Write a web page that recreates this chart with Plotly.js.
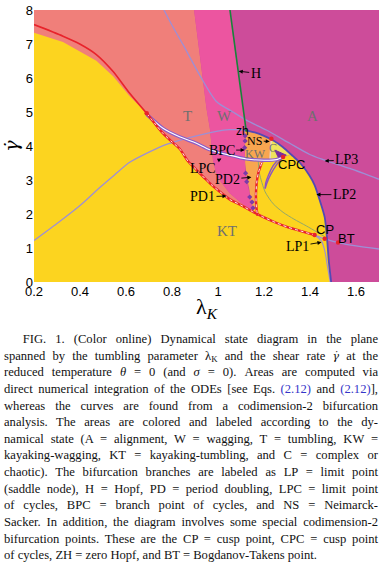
<!DOCTYPE html>
<html><head><meta charset="utf-8">
<script src="https://cdn.plot.ly/plotly-3.0.1.min.js"></script>
<style>
body{margin:0;background:#fff;width:387px;height:573px;overflow:hidden;position:relative}
#plot{position:absolute;left:0;top:0;width:387px;height:322px}
#cap{position:absolute;left:4px;top:331px;width:374px;font-family:'Liberation Serif','Times New Roman',serif;font-size:12.6px;line-height:16.65px;color:#111;transform-origin:0 0}
#cap .ln{white-space:nowrap;height:16.65px}
#cap .lk{color:#3535c8}
#cap .gd{font-family:'DejaVu Serif',serif;font-style:italic;font-size:11px}
#cap sub{font-size:70%;vertical-align:-2px;line-height:0}
</style>
</head><body>
<div id="plot"></div>
<div id="cap">
<div class="ln" style="padding-left:18.7px"><span class="t">FIG. 1. (Color online) Dynamical state diagram in the plane</span></div>
<div class="ln"><span class="t">spanned by the tumbling parameter λ<sub>K</sub> and the shear rate <span class="gd">γ̇</span> at the</span></div>
<div class="ln"><span class="t">reduced temperature <i>θ</i> = 0 (and <i>σ</i> = 0). Areas are computed via</span></div>
<div class="ln"><span class="t">direct numerical integration of the ODEs [see Eqs. <span class="lk">(2.12)</span> and <span class="lk">(2.12)</span>],</span></div>
<div class="ln"><span class="t">whereas the curves are found from a codimension-2 bifurcation</span></div>
<div class="ln"><span class="t">analysis. The areas are colored and labeled according to the dy-</span></div>
<div class="ln"><span class="t">namical state (A = alignment, W = wagging, T = tumbling, KW =</span></div>
<div class="ln"><span class="t">kayaking-wagging, KT = kayaking-tumbling, and C = complex or</span></div>
<div class="ln"><span class="t">chaotic). The bifurcation branches are labeled as LP = limit point</span></div>
<div class="ln"><span class="t">(saddle node), H = Hopf, PD = period doubling, LPC = limit point</span></div>
<div class="ln"><span class="t">of cycles, BPC = branch point of cycles, and NS = Neimarck-</span></div>
<div class="ln"><span class="t">Sacker. In addition, the diagram involves some special codimension-2</span></div>
<div class="ln"><span class="t">bifurcation points. These are the CP = cusp point, CPC = cusp point</span></div>
<div class="ln last"><span class="t">of cycles, ZH = zero Hopf, and BT = Bogdanov-Takens point.</span></div>
</div>
<script>
// ---------- axes ----------
const xRange = [0.2, 1.7];
const yRange = [0, 8];
const xTickVals = [0.2, 0.4, 0.6, 0.8, 1, 1.2, 1.4, 1.6];
const xTickText = ['0.2', '0.4', '0.6', '0.8', '1', '1.2', '1.4', '1.6'];
const yTickVals = [0, 1, 2, 3, 4, 5, 6, 7, 8];
const yTickText = ['0', '1', '2', '3', '4', '5', '6', '7', '8'];

// ---------- regions (boundaries) ----------
const regionT_x = [0.2, 0.2, 0.896, 0.915, 0.932, 0.95, 0.965, 0.972, 0.978, 0.99, 1.007, 1.05, 1.1, 1.165, 1.165];
const regionT_y = [0, 8, 8, 7.0, 6.0, 5.1, 4.5, 4.1, 3.6, 3.25, 3.0, 2.62, 2.33, 2.02, 0];

const regionW_x = [0.896, 1.052, 1.123, 1.116, 1.118, 1.13, 1.15, 1.172, 1.165, 1.1, 1.05, 1.007, 0.99, 0.978, 0.972, 0.965, 0.95, 0.932, 0.915, 0.896];
const regionW_y = [8, 8, 4.42, 4.0, 3.3, 2.8, 2.3, 1.95, 2.02, 2.33, 2.62, 3.0, 3.25, 3.6, 4.1, 4.5, 5.1, 6.0, 7.0, 8];

const regionKT_x = [0.2, 0.2, 0.326, 0.399, 0.471, 0.544, 0.616, 0.69, 0.73, 0.761, 0.8, 0.833, 0.87, 0.906, 0.95, 0.978, 1.0, 1.051, 1.1, 1.15, 1.167, 1.165, 1.168, 1.175, 1.19, 1.22, 1.254, 1.283, 1.315, 1.326, 1.357, 1.399, 1.42, 1.442, 1.464, 1.475, 1.482, 1.492];
const regionKT_y = [0, 7.33, 7.06, 6.78, 6.51, 6.05, 5.46, 4.96, 4.62, 4.37, 4.12, 3.92, 3.55, 3.3, 3.0, 2.82, 2.7, 2.43, 2.26, 2.07, 2.2, 2.55, 2.9, 3.2, 3.5, 3.58, 3.58, 3.66, 3.75, 3.7, 3.5, 3.12, 2.85, 2.41, 1.9, 1.2, 0.6, 0];

const regionKW_x = [1.116, 1.16, 1.2, 1.232, 1.228, 1.226, 1.19, 1.175, 1.168, 1.165, 1.162, 1.152, 1.143, 1.137, 1.125, 1.118, 1.116];
const regionKW_y = [4.47, 4.4, 4.3, 4.21, 3.9, 3.6, 3.55, 3.2, 2.9, 2.55, 2.2, 2.12, 2.4, 2.7, 3.1, 3.5, 4.47];

const regionC_x = [1.232, 1.255, 1.28, 1.3, 1.315, 1.283, 1.255, 1.226];
const regionC_y = [4.21, 4.12, 3.98, 3.86, 3.75, 3.68, 3.62, 3.62];

// ---------- bifurcation curves ----------
const red_x = [0.2, 0.326, 0.399, 0.471, 0.544, 0.616, 0.69];
const red_y = [7.57, 7.23, 7.0, 6.69, 6.19, 5.55, 4.96];

const pd1_x = [0.69, 0.73, 0.761, 0.8, 0.833, 0.87, 0.906, 0.95, 0.978, 1.0, 1.051, 1.1, 1.15, 1.2, 1.25, 1.3, 1.35, 1.42];
const pd1_y = [4.96, 4.62, 4.37, 4.12, 3.92, 3.55, 3.3, 3.0, 2.82, 2.7, 2.43, 2.26, 2.07, 1.9, 1.75, 1.62, 1.52, 1.38];

const pd2_x = [1.19, 1.175, 1.168, 1.165, 1.167, 1.172];
const pd2_y = [3.5, 3.2, 2.9, 2.55, 2.2, 1.95];

const lpc_x = [0.69, 0.761, 0.833, 0.906, 0.964, 1.051, 1.123, 1.2, 1.254, 1.283];
const lpc_y = [4.93, 4.52, 4.27, 4.08, 3.89, 3.73, 3.62, 3.58, 3.6, 3.68];

const rise_x = [0.2, 0.3, 0.4, 0.486, 0.55, 0.616, 0.7, 0.776, 0.85, 0.906, 0.993, 1.05, 1.09, 1.116];
const rise_y = [1.22, 1.72, 2.25, 2.78, 3.15, 3.52, 3.82, 4.05, 4.2, 4.3, 4.43, 4.48, 4.48, 4.47];

const lp2_x = [1.116, 1.16, 1.2, 1.239, 1.28, 1.326, 1.357, 1.399, 1.42, 1.442, 1.464, 1.475, 1.482, 1.492];
const lp2_y = [4.47, 4.4, 4.3, 4.17, 3.98, 3.7, 3.5, 3.12, 2.85, 2.41, 1.9, 1.2, 0.6, 0];

const lp3_x = [0.765, 0.8, 0.848, 0.92, 0.993, 1.065, 1.123, 1.21, 1.312, 1.399, 1.457, 1.573, 1.7];
const lp3_y = [8, 7.55, 6.98, 6.09, 5.31, 5.0, 4.76, 4.47, 4.08, 3.75, 3.6, 3.34, 3.02];

const hopf_x = [1.052, 1.123];
const hopf_y = [8, 4.42];

const lp1_x = [1.42, 1.45, 1.465, 1.475, 1.488];
const lp1_y = [1.38, 1.2, 0.9, 0.5, 0];

const bt_x = [1.42, 1.464, 1.522, 1.6, 1.7];
const bt_y = [1.38, 1.27, 1.16, 1.06, 0.97];

const thin_x = [1.175, 1.18, 1.205, 1.24, 1.283, 1.33, 1.384, 1.43, 1.464];
const thin_y = [3.55, 3.2, 2.65, 2.3, 2.05, 1.85, 1.65, 1.47, 1.33];

const cuspA_x = [1.283, 1.255, 1.228, 1.212, 1.205];
const cuspA_y = [3.68, 3.45, 3.15, 2.9, 2.75];
const cuspB_x = [1.27, 1.24, 1.218, 1.207, 1.205];
const cuspB_y = [3.66, 3.42, 3.12, 2.9, 2.75];

const ns_x = [1.232, 1.228, 1.226];
const ns_y = [4.21, 3.9, 3.62];

const cpcTri_x = [1.247, 1.297, 1.261, 1.247];
const cpcTri_y = [3.88, 3.73, 3.68, 3.88];

const redPts_x = [0.69, 1.232, 1.283, 1.42, 1.464, 1.522];
const redPts_y = [4.96, 4.21, 3.68, 1.38, 1.27, 1.16];

const purplePts_x = [1.118, 1.118, 1.116, 1.12, 1.125, 1.138, 1.148, 1.152];
const purplePts_y = [4.3, 4.15, 3.95, 3.2, 2.95, 2.5, 2.35, 2.18];

// ---------- labels ----------
const regionLabels = ['T', 'W', 'A', 'KW', 'C', 'KT'];
const regionLabel_x = [0.867, 1.029, 1.413, 1.165, 1.241, 1.037];
const regionLabel_y = [4.88, 4.88, 4.88, 3.76, 3.93, 1.5];
const regionLabel_size = [15, 15, 15, 12, 12, 15];

const arrowLabels = ['H', 'NS', 'BPC', 'LPC', 'PD2', 'PD1', 'LP3', 'LP2', 'LP1'];
const arrowTip_x = [1.09, 1.225, 1.116, 1.015, 1.145, 1.037, 1.464, 1.428, 1.45];
const arrowTip_y = [6.2, 4.13, 3.88, 3.63, 3.08, 2.53, 3.56, 2.57, 1.17];
const arrowOff_x = [17, -15, -23, -18, -24, -24, 22, 28, -24];
const arrowOff_y = [2, -1, 0, 10, 2, 1, -1, 0, 4];

const pointLabels = ['zh', 'CPC', 'CP', 'BT'];
const pointLabel_x = [1.107, 1.319, 1.464, 1.56];
const pointLabel_y = [4.45, 3.46, 1.535, 1.275];

// ---------- colours ----------
const colA = '#cd4c9a', colW = '#ec55a0', colT = '#f07f7a', colKT = '#fcd41f', colKW = '#f8a650', colC = '#efe35c';

function fillTr(x, y, c) {
  return {type: 'scatter', x: x, y: y, mode: 'lines', fill: 'toself', fillcolor: c,
    line: {width: 0, color: c}, hoverinfo: 'skip', showlegend: false};
}
function lineTr(x, y, c, w, dash, shape) {
  return {type: 'scatter', x: x, y: y, mode: 'lines',
    line: {width: w, color: c, dash: dash || 'solid', shape: shape || 'spline', smoothing: 0.7},
    hoverinfo: 'skip', showlegend: false};
}

const traces = [
  fillTr(regionT_x, regionT_y, colT),
  fillTr(regionW_x, regionW_y, colW),
  fillTr(regionKT_x, regionKT_y, colKT),
  fillTr(regionKW_x, regionKW_y, colKW),
  fillTr(regionC_x, regionC_y, colC),
  lineTr(rise_x, rise_y, '#9d8fd6', 1.3),
  lineTr(lp3_x, lp3_y, '#9d8fd6', 1.3),
  lineTr(bt_x, bt_y, '#9d8fd6', 1.3),
  lineTr(lp1_x, lp1_y, '#9d8fd6', 1.2),
  lineTr(thin_x, thin_y, '#93a86a', 1.0),
  lineTr(ns_x, ns_y, '#e9e3f2', 1.0),
  lineTr(cuspA_x, cuspA_y, '#8b52c4', 1.4),
  lineTr(cuspB_x, cuspB_y, '#8b52c4', 1.4),
  lineTr(lp2_x, lp2_y, '#5349b6', 1.8),
  lineTr(hopf_x, hopf_y, '#17843a', 1.6, 'solid', 'linear'),
  lineTr(lpc_x, lpc_y, '#8b5cc8', 3.4),
  lineTr(lpc_x, lpc_y, '#ffffff', 1.1),
  lineTr(red_x, red_y, '#e8232b', 1.6),
  lineTr(pd1_x, pd1_y, '#e8232b', 2.4),
  lineTr(pd1_x, pd1_y, '#ffffff', 0.9, 'dot'),
  lineTr(pd2_x, pd2_y, '#e8232b', 2.4),
  lineTr(pd2_x, pd2_y, '#ffffff', 0.9, 'dot'),
  {type: 'scatter', x: cpcTri_x, y: cpcTri_y, mode: 'lines', fill: 'toself', fillcolor: '#7a2e9e',
    line: {width: 1, color: '#7a2e9e'}, hoverinfo: 'skip', showlegend: false},
  {type: 'scatter', x: purplePts_x, y: purplePts_y, mode: 'markers',
    marker: {size: 4, color: '#7b3aa8', symbol: 'diamond'}, hoverinfo: 'skip', showlegend: false},
  {type: 'scatter', x: redPts_x, y: redPts_y, mode: 'markers',
    marker: {size: 4.5, color: '#e8232b'}, hoverinfo: 'skip', showlegend: false}
];

const serif = 'Liberation Serif, Times New Roman, serif';
const sans = 'Liberation Sans, Arial, sans-serif';
const annotations = [];
regionLabels.forEach((t, i) => annotations.push({
  x: regionLabel_x[i], y: regionLabel_y[i], text: t, showarrow: false,
  font: {family: serif, size: regionLabel_size[i], color: '#6f6f6f'}
}));
arrowLabels.forEach((t, i) => annotations.push({
  x: arrowTip_x[i], y: arrowTip_y[i], text: t, showarrow: true,
  ax: arrowOff_x[i], ay: arrowOff_y[i], arrowhead: 2, arrowsize: 0.9, arrowwidth: 0.9,
  arrowcolor: '#000', standoff: 0, startstandoff: 0,
  font: {family: serif, size: t === 'NS' ? 12 : 14, color: '#000'}
}));
pointLabels.forEach((t, i) => annotations.push({
  x: pointLabel_x[i], y: pointLabel_y[i], text: t, showarrow: false,
  font: {family: sans, size: t === 'zh' ? 12 : 13, color: '#000'}
}));

const layout = {
  width: 387, height: 322,
  margin: {l: 34, r: 8, t: 10, b: 40},
  paper_bgcolor: '#ffffff', plot_bgcolor: colA,
  showlegend: false,
  xaxis: {range: xRange, tickvals: xTickVals, ticktext: xTickText, showgrid: false, zeroline: false,
    ticks: '', showline: false, tickfont: {family: sans, size: 13, color: '#000'},
    title: {text: 'λ<sub><i>K</i></sub>', font: {family: serif, size: 22, color: '#000'}, standoff: 1}},
  yaxis: {range: yRange, tickvals: yTickVals, ticktext: yTickText, showgrid: false, zeroline: false,
    ticks: '', showline: false, tickfont: {family: sans, size: 13, color: '#000'},
    title: {text: 'γ̇', font: {family: 'DejaVu Serif, serif', size: 19, color: '#000', style: 'italic'}, standoff: 3}},
  annotations: annotations
};

Plotly.newPlot('plot', traces, layout, {displayModeBar: false, staticPlot: true});

// ---------- justify caption lines ----------
function justifyCaption() {
  const cap = document.getElementById('cap');
  const target = 374;
  const lines = Array.from(cap.querySelectorAll('.ln'));
  cap.style.transform = 'none';
  cap.style.width = target + 'px';
  let maxRatio = 0;
  const info = lines.map(l => {
    const sp = l.querySelector('.t');
    sp.style.wordSpacing = '0px';
    const indent = parseFloat(l.style.paddingLeft || '0');
    const w = sp.getBoundingClientRect().width;
    if (!l.classList.contains('last')) maxRatio = Math.max(maxRatio, (w + indent) / target);
    return {sp, indent, w, n: (sp.textContent.match(/ /g) || []).length};
  });
  const s = maxRatio > 1 ? 1 / maxRatio : 1;
  const W = target / s;
  cap.style.width = W + 'px';
  cap.style.transform = 'scaleX(' + s + ')';
  lines.forEach((l, i) => {
    if (l.classList.contains('last')) return;
    const d = info[i];
    const extra = W - d.indent - d.w;
    d.sp.style.wordSpacing = (extra / d.n) + 'px';
  });
}
justifyCaption();
if (document.fonts && document.fonts.ready) document.fonts.ready.then(justifyCaption);
</script>
</body></html>
